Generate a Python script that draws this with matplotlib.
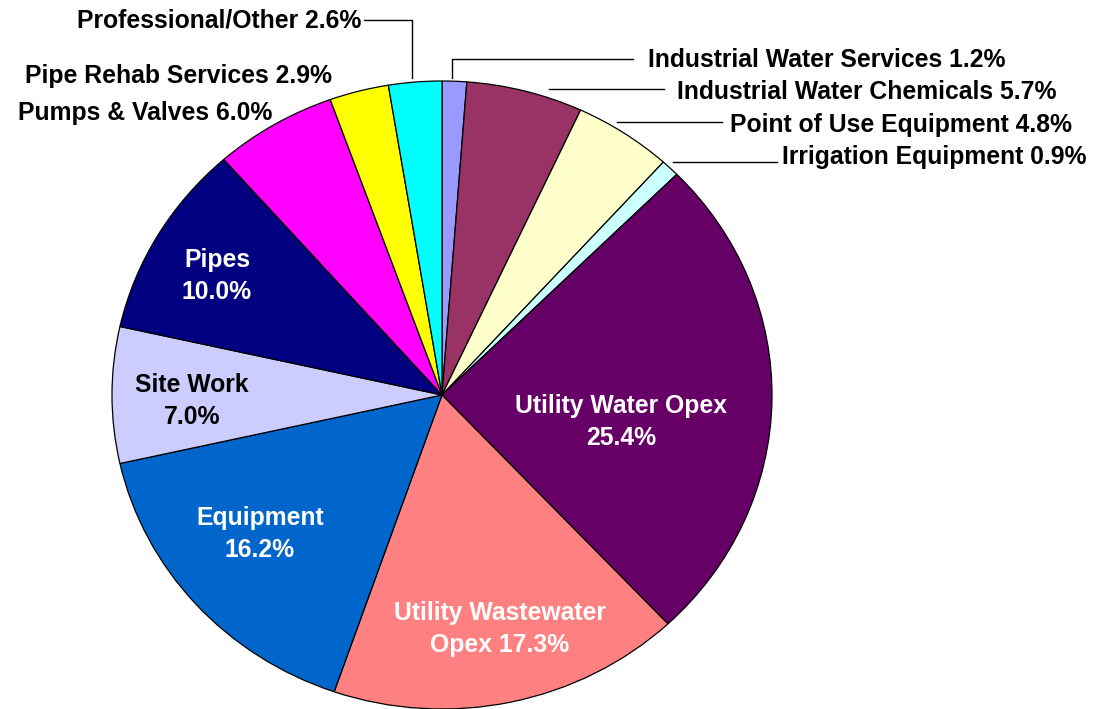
import matplotlib.pyplot as plt

plt.rcParams['font.family'] = ['Liberation Sans', 'DejaVu Sans']

labels = ['Industrial Water Services', 'Industrial Water Chemicals', 'Point of Use Equipment',
          'Irrigation Equipment', 'Utility Water Opex', 'Utility Wastewater Opex', 'Equipment',
          'Site Work', 'Pipes', 'Pumps & Valves', 'Pipe Rehab Services', 'Professional/Other']
shares = [1.2, 5.7, 4.8, 0.9, 25.4, 17.3, 16.2, 7.0, 10.0, 6.0, 2.9, 2.6]
colors = ['#9999FF', '#993366', '#FFFFCC', '#CCFFFF', '#660066', '#FF8080', '#0066CC',
          '#CCCCFF', '#000080', '#FF00FF', '#FFFF00', '#00FFFF']

W, H = 1107, 709
CX, CY, RX, RY = 442, 395, 330, 314


def px(x, y):
    # pixel position -> pie data coords
    return (x - CX) / RX, (CY - y) / RY


fig = plt.figure(figsize=(W / 100, H / 100), dpi=100)
ax = fig.add_axes([0, 0, 1, 1])
ax.pie(shares, colors=colors, startangle=90, counterclock=False,
       wedgeprops=dict(edgecolor='black', linewidth=0.9))
ax.set_aspect('auto')
ax.set_xlim(-CX / RX, (W - CX) / RX)
ax.set_ylim((CY - H) / RY, CY / RY)
ax.axis('off')

# labels inside the slices: centre x, centre y, colour
inside = {
    'Utility Water Opex': (621, 422, 'white'),
    'Utility Wastewater Opex': (500, 629, 'white'),
    'Equipment': (260, 534, 'white'),
    'Site Work': (192, 401, 'black'),
    'Pipes': (217, 276, 'white'),
}
# labels outside: x, y, alignment, leader line
outside = {
    'Industrial Water Services': (648, 60, 'left', [(633, 59), (452, 59), (452, 78)]),
    'Industrial Water Chemicals': (677, 92, 'left', [(549, 89), (664, 89)]),
    'Point of Use Equipment': (730, 125, 'left', [(617, 122), (722, 122)]),
    'Irrigation Equipment': (782, 157, 'left', [(673, 162), (777, 162)]),
    'Pumps & Valves': (18, 113, 'left', None),
    'Pipe Rehab Services': (25, 76, 'left', None),
    'Professional/Other': (361, 20, 'right', [(364, 20), (412, 20), (412, 78)]),
}

for name, share in zip(labels, shares):
    if name in inside:
        x, y, c = inside[name]
        if name == 'Utility Wastewater Opex':
            txt = 'Utility Wastewater\nOpex %.1f%%' % share
        else:
            txt = '%s\n%.1f%%' % (name, share)
        ax.text(*px(x, y), txt, ha='center', va='center', color=c,
                fontsize=17.8, fontweight='bold', linespacing=1.38)
    else:
        x, y, ha, line = outside[name]
        ax.text(*px(x, y), '%s %.1f%%' % (name, share), ha=ha, va='center',
                color='black', fontsize=17.8, fontweight='bold')
        if line:
            pts = [px(a, b) for a, b in line]
            ax.plot([p[0] for p in pts], [p[1] for p in pts], color='black', lw=1.0)

fig.savefig('out.png', dpi=100)
